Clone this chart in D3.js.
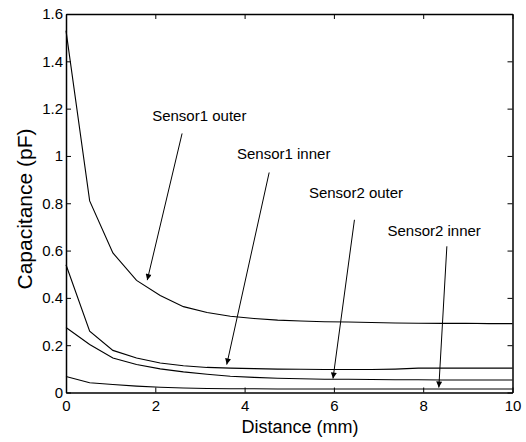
<!DOCTYPE html>
<html>
<head>
<meta charset="utf-8">
<script src="https://d3js.org/d3.v7.min.js"></script>
<style>
    body { margin: 0; background: white; }
    svg text { font-family: "Liberation Sans", Arial, sans-serif; fill: black; }
</style>
</head>
<body>
<svg id="chart" width="526" height="442"></svg>
<script>
// distance samples (mm)
var distance = [0, 0.53, 1.05, 1.58, 2.11, 2.63, 3.16, 3.68, 4.21, 4.74, 5.26, 5.79, 6.32, 6.84, 7.37, 7.89, 8.42, 8.95, 9.47, 10];

var sensor1Outer = [1.53, 0.81, 0.59, 0.474, 0.41, 0.363, 0.338, 0.322, 0.313, 0.306, 0.302, 0.299, 0.298, 0.296, 0.294, 0.293, 0.292, 0.293, 0.291, 0.291];
var sensor1Inner = [0.54, 0.259, 0.178, 0.146, 0.125, 0.113, 0.106, 0.103, 0.101, 0.099, 0.098, 0.097, 0.097, 0.097, 0.099, 0.103, 0.103, 0.103, 0.103, 0.103];
var sensor2Outer = [0.275, 0.203, 0.146, 0.118, 0.100, 0.087, 0.077, 0.069, 0.064, 0.060, 0.058, 0.056, 0.056, 0.055, 0.054, 0.054, 0.053, 0.053, 0.053, 0.053];
var sensor2Inner = [0.068, 0.041, 0.034, 0.027, 0.022, 0.019, 0.017, 0.016, 0.016, 0.015, 0.015, 0.015, 0.015, 0.015, 0.015, 0.015, 0.015, 0.015, 0.015, 0.015];

var xTicks = [0, 2, 4, 6, 8, 10];
var yTicks = [0, 0.2, 0.4, 0.6, 0.8, 1, 1.2, 1.4, 1.6];

// label text, where it sits (data units) and where its arrow points
var labels = ["Sensor1 outer", "Sensor1 inner", "Sensor2 outer", "Sensor2 inner"];
var labelX = [1.93, 3.83, 5.44, 7.2];
var labelY = [1.147, 0.985, 0.824, 0.661];
var arrowFrom = [[2.6, 1.095], [4.55, 0.93], [6.46, 0.73], [8.53, 0.618]];
var arrowTo = [[1.82, 0.475], [3.6, 0.118], [5.98, 0.059], [8.35, 0.021]];

var svg = d3.select("#chart");
// plot box in pixels (don't call it "top", that's window.top)
var boxL = 66, boxR = 512.5, boxT = 14, boxB = 392.5;

var x = d3.scaleLinear().domain([0, 10]).range([boxL, boxR]);
var y = d3.scaleLinear().domain([0, 1.6]).range([boxB, boxT]);

var fmt = function (d) { return d3.format("~g")(d); };

// axes, ticks inside on all four sides (matlab style)
svg.append("g")
    .classed("ax", true)
    .attr("transform", "translate(0," + boxB + ")")
    .call(d3.axisBottom(x).tickValues(xTicks).tickSizeInner(-5).tickSizeOuter(0).tickPadding(8).tickFormat(fmt));
svg.append("g")
    .classed("ax", true)
    .attr("transform", "translate(0," + boxT + ")")
    .call(d3.axisTop(x).tickValues(xTicks).tickSizeInner(-5).tickSizeOuter(0).tickFormat(""));
svg.append("g")
    .classed("ax", true)
    .attr("transform", "translate(" + boxL + ",0)")
    .call(d3.axisLeft(y).tickValues(yTicks).tickSizeInner(-5).tickSizeOuter(0).tickPadding(3).tickFormat(fmt));
svg.append("g")
    .classed("ax", true)
    .attr("transform", "translate(" + boxR + ",0)")
    .call(d3.axisRight(y).tickValues(yTicks).tickSizeInner(-5).tickSizeOuter(0).tickFormat(""));

svg.selectAll(".ax").attr("font-size", 15).attr("font-family", null);
svg.selectAll(".ax .tick line").attr("stroke", "black").attr("stroke-width", 1);
svg.selectAll(".ax path").attr("stroke", "black").attr("stroke-width", 1.5);
svg.selectAll(".ax .tick text").attr("fill", "black");

// curves
var series = [sensor1Outer, sensor1Inner, sensor2Outer, sensor2Inner];
var line = d3.line()
    .x(function (d, i) { return x(distance[i]); })
    .y(function (d) { return y(d); });

svg.selectAll(".curve")
    .data(series)
    .enter()
    .append("path")
    .classed("curve", true)
    .attr("d", line)
    .attr("fill", "none")
    .attr("stroke", "black")
    .attr("stroke-width", 1.1);

// arrow head
svg.append("defs").append("marker")
    .attr("id", "head")
    .attr("viewBox", "0 0 10 10")
    .attr("refX", 10)
    .attr("refY", 5)
    .attr("markerWidth", 9)
    .attr("markerHeight", 6)
    .attr("markerUnits", "userSpaceOnUse")
    .attr("orient", "auto")
    .append("path")
    .attr("d", "M0,0 L10,5 L0,10 Z")
    .attr("fill", "black");

svg.selectAll(".arrow")
    .data(labels)
    .enter()
    .append("line")
    .classed("arrow", true)
    .attr("x1", function (d, i) { return x(arrowFrom[i][0]); })
    .attr("y1", function (d, i) { return y(arrowFrom[i][1]); })
    .attr("x2", function (d, i) { return x(arrowTo[i][0]); })
    .attr("y2", function (d, i) { return y(arrowTo[i][1]); })
    .attr("stroke", "black")
    .attr("stroke-width", 1)
    .attr("marker-end", "url(#head)");

svg.selectAll(".note")
    .data(labels)
    .enter()
    .append("text")
    .classed("note", true)
    .attr("x", function (d, i) { return x(labelX[i]); })
    .attr("y", function (d, i) { return y(labelY[i]); })
    .style("font-size", "15px")
    .text(function (d) { return d; });

// axis titles
svg.append("text")
    .attr("x", 300)
    .attr("y", 433)
    .attr("text-anchor", "middle")
    .style("font-size", "18px")
    .text("Distance (mm)");

svg.append("text")
    .attr("transform", "translate(32,209) rotate(-90)")
    .attr("text-anchor", "middle")
    .style("font-size", "21px")
    .text("Capacitance (pF)");
</script>
</body>
</html>
